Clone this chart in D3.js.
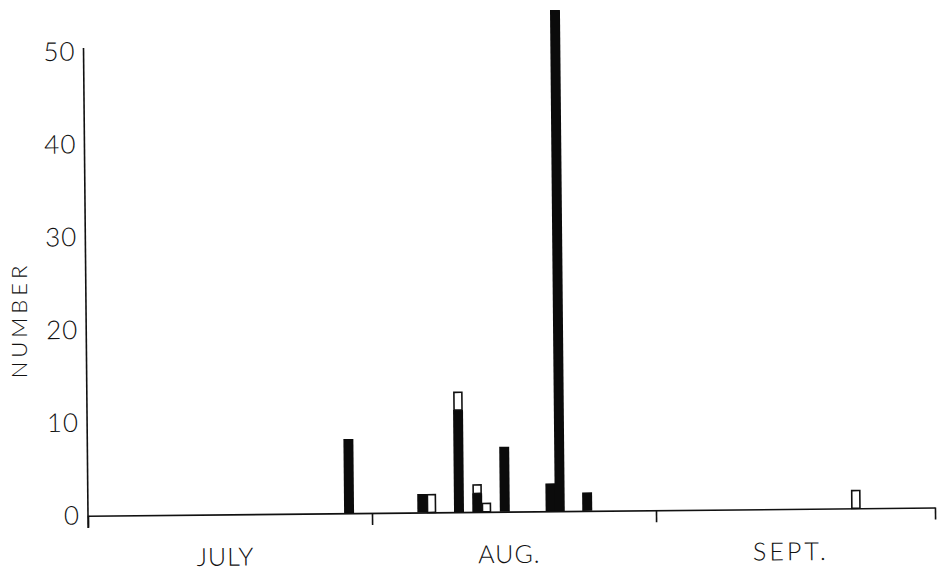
<!DOCTYPE html>
<html>
<head>
<meta charset="utf-8">
<script src="https://cdn.jsdelivr.net/npm/d3@7"></script>
<style>
  body { margin: 0; background: #fff; }
  svg { display: block; }
  text { font-family: Lato, 'DejaVu Sans', sans-serif; font-weight: 300; fill: #111; }
</style>
</head>
<body>
<svg class="container" width="937" height="574"></svg>
<script>
// Seed data
const months = ['JULY', 'AUG.', 'SEPT.'];
const barDates = ['07-29', '08-06', '08-07', '08-10', '08-12', '08-13', '08-15', '08-20', '08-21', '08-24', '09-22'];
const blackCounts = [8, 2, 0, 11, 2, 0, 7, 3, 54, 2, 0];
const whiteCounts = [0, 0, 2, 2, 1, 1, 0, 0, 0, 0, 2];
const yTicks = [0, 10, 20, 30, 40, 50];

const ORIGIN = { X: 88, Y: 515.7 };
const TILT = -0.55; // the scanned page is a little tilted

// day index counted from July 1 (Jul 31, Aug 31, Sept 30 days)
const monthStart = [0, 31, 62, 92];
function dayIndex(str) {
  const [m, d] = str.split('-').map(Number);
  return monthStart[m - 7] + d - 1;
}

const dataset = barDates.map((date, i) => ({
  day: dayIndex(date),
  black: blackCounts[i],
  white: whiteCounts[i],
}));

const xScale = d3.scaleLinear()
  .domain(monthStart)
  .range([ORIGIN.X, 372, 656, 935]);
const yScale = d3.scaleLinear()
  .domain([0, 50])
  .range([ORIGIN.Y, 51.7]);

const svg = d3.select('.container');
const plot = svg.append('g')
  .attr('transform', `rotate(${TILT},${ORIGIN.X},${ORIGIN.Y})`);

// Bars: black part first, white part stacked on top.
const bars = plot.append('g').attr('class', 'bars')
  .selectAll('g')
  .data(dataset)
  .enter()
  .append('g');

bars.filter(d => d.black > 0).append('rect')
  .attr('x', d => xScale(d.day) - 0.4)
  .attr('width', d => xScale(d.day + 1) - xScale(d.day) + 0.8)
  .attr('y', d => yScale(d.black))
  .attr('height', d => yScale(0) - yScale(d.black))
  .attr('fill', '#0b0b0b');

bars.filter(d => d.white > 0).append('rect')
  .attr('x', d => xScale(d.day) + 0.6)
  .attr('width', d => xScale(d.day + 1) - xScale(d.day) - 1.2)
  .attr('y', d => yScale(d.black + d.white) + 0.8)
  .attr('height', d => yScale(d.black) - yScale(d.black + d.white) - 0.8)
  .attr('fill', '#fff')
  .attr('stroke', '#111')
  .attr('stroke-width', 1.6);

// x axis
const bottomAxis = d3.axisBottom(xScale)
  .tickValues(monthStart)
  .tickSize(12)
  .tickSizeOuter(0)
  .tickFormat('');
const xAxis = plot.append('g')
  .attr('class', 'x-axis')
  .attr('transform', `translate(0,${ORIGIN.Y})`)
  .call(bottomAxis);
xAxis.selectAll('path, line').attr('stroke', '#111').attr('stroke-width', 1.6);

// y axis: plain line, labels only
plot.append('line')
  .attr('x1', ORIGIN.X).attr('x2', ORIGIN.X)
  .attr('y1', 48).attr('y2', 528)
  .attr('stroke', '#111')
  .attr('stroke-width', 1.6);

const leftAxis = d3.axisLeft(yScale)
  .tickValues(yTicks)
  .tickSize(0)
  .tickPadding(8);
const yAxis = plot.append('g')
  .attr('class', 'y-axis')
  .attr('transform', `translate(${ORIGIN.X},0)`)
  .call(leftAxis);
yAxis.select('.domain').remove();
yAxis.selectAll('text')
  .style('font-family', 'Lato, sans-serif')
  .style('font-weight', 300)
  .style('font-size', '26px')
  .style('letter-spacing', '1px')
  .attr('fill', '#111');

// month labels
plot.append('g').attr('class', 'months')
  .selectAll('text')
  .data(months)
  .enter()
  .append('text')
  .attr('x', (d, i) => (xScale(monthStart[i]) + xScale(monthStart[i + 1])) / 2 - 5)
  .attr('y', 567)
  .attr('text-anchor', 'middle')
  .style('font-size', '25px')
  .style('letter-spacing', (d, i) => (i === 2 ? '3px' : '1px'))
  .text(d => d);

// y axis title
svg.append('text')
  .attr('transform', 'translate(27,320) rotate(-90)')
  .attr('text-anchor', 'middle')
  .style('font-size', '22px')
  .style('letter-spacing', '4px')
  .text('NUMBER');
</script>
</body>
</html>
